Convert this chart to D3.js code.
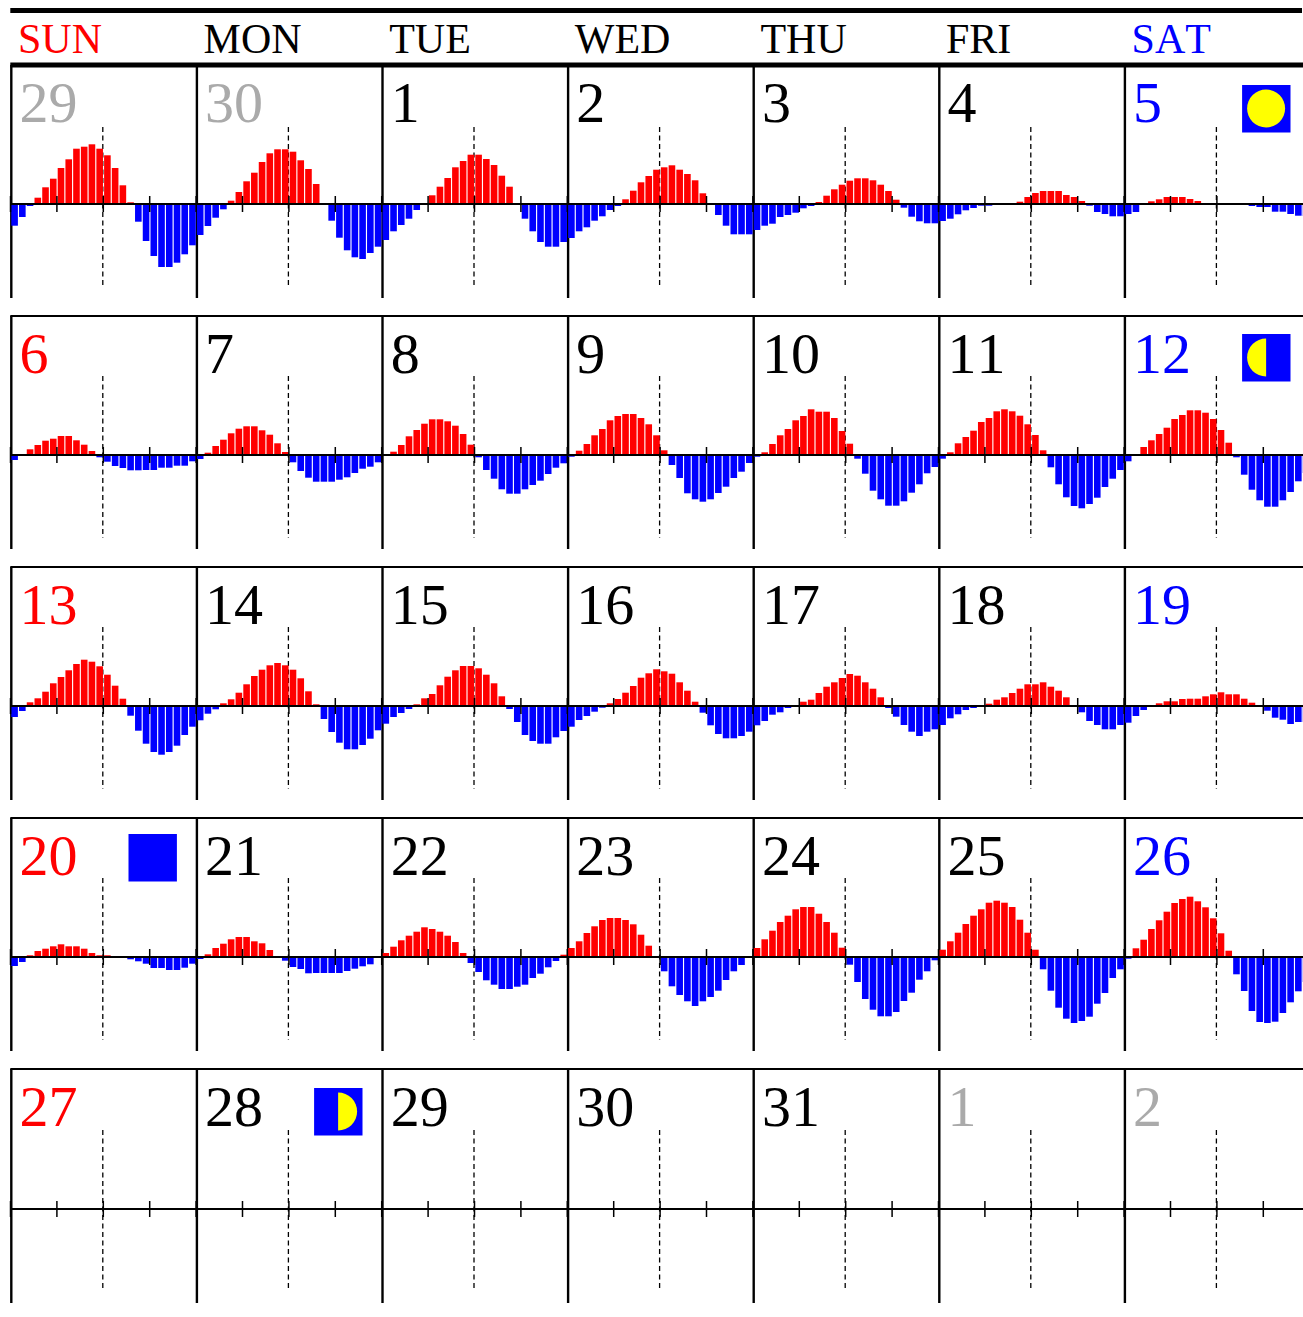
<!DOCTYPE html>
<html>
<head>
<meta charset="utf-8">
<script src="https://cdnjs.cloudflare.com/ajax/libs/d3/7.8.5/d3.min.js"></script>
<style>
  body { margin: 0; background: #fff; }
  text { font-family: "Liberation Serif", serif; font-kerning: none; }
</style>
</head>
<body>
<svg id="calendar" width="1303" height="1317"></svg>
<script>
// weekday headings
const weekdays = ["SUN", "MON", "TUE", "WED", "THU", "FRI", "SAT"];

// day numbers, one row per week
const dayLabels = [
  [29, 30, 1, 2, 3, 4, 5],
  [6, 7, 8, 9, 10, 11, 12],
  [13, 14, 15, 16, 17, 18, 19],
  [20, 21, 22, 23, 24, 25, 26],
  [27, 28, 29, 30, 31, 1, 2]
];
// days that belong to another month
const otherMonth = ["0-0", "0-1", "4-5", "4-6"];

const hourTicks = [0, 6, 12, 18];

// moon phases: row, col, phase
const moonRows = [0, 1, 3, 4];
const moonCols = [6, 6, 0, 1];
const moonPhases = ["full", "waning", "new", "waxing"];

// hourly values, one list per day (24 hours)
const week1 = [
  [-21.7,-13,-2,6.3,16.7,25.3,36,44.7,55.3,57.3,59.7,55.3,48.7,36,18.7,1.7,-17.7,-37,-52,-63,-63,-58.7,-50.3,-41.3],
  [-31,-22,-13.7,-5.3,3.3,12,22.7,31.3,42,50.7,54.7,54.7,52.3,43.7,35,20,0.7,-16.7,-33.7,-46.3,-53.3,-55,-49,-42.7],
  [-36,-27.3,-21,-14.7,-6,0,8.7,17.3,26,36.7,43,49.3,49.3,45,39,28.3,17.3,0,-14.7,-27.3,-38,-42.7,-42.7,-38],
  [-34,-27.3,-23.3,-16.7,-12.3,-6,-2,4.7,13.3,21.7,28,34.3,36.7,38.7,34.3,30,23.7,10.7,0,-11,-21.7,-30.3,-30.3,-30.3],
  [-26,-21.7,-19.7,-13,-11,-8.7,-4.3,-2,2,8.3,14.7,19.3,23.3,25.7,25.7,23.7,19.3,13,4.3,-3.7,-12.7,-17.3,-19.3,-19.3],
  [-17,-14.7,-10.3,-6.3,-4,-1.7,-1.7,0.4,0.4,0.6,2.3,7,11,13,13,13,9,7,3,-1.7,-8,-10,-12.3,-12.3],
  [-10,-8,-0.7,2.7,4.7,7,7,7,5,3,0.7,0.5,0.3,0,-0.3,-0.5,-2,-3,-3,-7.7,-7.7,-10,-11.7,-12]
];
const week2 = [
  [-5,0,5.7,10,14.3,16.3,19,19,14.7,10.3,4,-2.3,-6.7,-11,-13,-15.3,-15.3,-15,-15,-12.7,-12.7,-10.7,-10.7,-6.3],
  [-4,2.3,9,15.3,21.7,26.3,28.7,28.7,24.7,20.3,11.7,3,-7.3,-16,-22.7,-26.7,-26.7,-26.7,-24.7,-22.3,-18,-13.7,-11.7,-7.3],
  [0,3.3,10,18.7,25,31.3,35.7,35.7,33.7,29.3,21,10.3,-2.3,-15,-23.7,-34.3,-38.7,-38.7,-34.3,-30,-25.7,-19,-12.7,-8.3],
  [-1.7,4.3,11,19.7,26,34.7,39,41,41,37,30.7,19.7,4.7,-10,-23,-38.3,-44.3,-46.7,-44.3,-38,-31.7,-23,-16.7,-8],
  [-1.7,2.7,11,19.7,26,34.7,39,45.7,43.3,43.3,37,24,11.3,-3.7,-18.7,-35.7,-44.3,-50.7,-50.7,-46.3,-37.7,-29.3,-18.3,-12],
  [-3.7,2.7,11.7,18,24.3,33,37,43.7,45.7,43.7,39.3,30.7,20,4.7,-12.3,-29.3,-42.3,-51,-53.3,-49,-42.7,-32,-23.7,-15],
  [-6.3,0,8,14.7,21,27.3,36,40,44.7,44.7,42.3,36,25,12.3,-2.3,-19.7,-34.7,-45.3,-51.7,-51.7,-45.3,-37,-26.3,-18]
];
const week3 = [
  [-11,-5,3.7,7.7,14.3,22.7,29,35.7,42,46.3,44.3,39.7,31.3,20.3,7.3,-9.7,-24.7,-37.7,-46,-48.7,-46,-39.7,-29,-20.7],
  [-14.3,-7.7,-3.3,2.7,6.7,13.3,21.7,30,36.3,40.7,43,40.7,36.3,27.7,14.7,1.7,-13,-26,-36.7,-43.3,-43.3,-39,-32.7,-24.3],
  [-17.7,-11,-7,-3,1.7,7.7,12,20.7,29.3,35.7,40,40,37.7,31.3,22.7,9.7,-3,-16,-29,-35,-37.7,-37.7,-31.3,-25],
  [-20.7,-14,-10,-5.7,-1.7,2.7,7,13.3,20,28.3,32.7,36.7,34.7,32.3,23.7,15.3,4.3,-6.7,-19.3,-28,-32.3,-32.3,-30,-25.7],
  [-19.3,-15,-8.7,-6.3,-2,0,4.3,6.3,13,19.3,23.7,28,32,30.3,23.7,17.3,8.7,-2,-10.7,-19,-25.7,-30,-25.7,-23.3],
  [-19,-12.3,-8.3,-4,-2,0,2.3,6.3,8.7,13,17.3,21.7,21.7,23.7,19.3,15.3,8.7,0,-6.3,-15,-19,-23.3,-23.3,-19],
  [-16.7,-10,-4,0,2.7,4.7,4.7,7,7.3,7.3,9.7,11.7,13.7,11.7,11.7,7.3,3.3,0,-4.7,-11.7,-13.7,-18,-16,-16]
];
const week4 = [
  [-9,-5,1.7,6,8.3,10.7,12.7,10.7,10.7,8.3,4,1.7,1.7,0,0,-2.3,-4.3,-6.7,-11,-11,-13,-13,-10.7,-6.7],
  [-2,2.7,9,13.3,17.7,20,20,15.7,13.7,7,0,-3.7,-10,-12,-16.3,-16,-16,-16,-16,-14,-11.7,-9.3,-7.3,0],
  [4,10.3,16.7,21.3,25.3,29.7,28,25.3,21.3,15,4,-6,-15,-23.3,-27.7,-32,-32,-29.7,-27.7,-21,-16.7,-10.3,-4,2.3],
  [9,15.7,24,30.7,37,39,39,37,32.7,22.3,11.3,-1,-14.3,-29.3,-38,-44.3,-49,-44.3,-40,-33.7,-23,-14.3,-8,0],
  [9,17.7,26.3,35,41.3,47.7,50,50,43.3,35,24.3,9.3,-7.7,-25,-42,-52.7,-59.3,-59.3,-55,-44,-35.7,-22.7,-14.3,-3.3],
  [7.3,15.7,24.3,33,41.3,47.7,54.3,56.3,54.3,50,37.3,24.3,7.3,-12.3,-33.7,-50.7,-61.7,-66,-64,-59.7,-46.7,-36,-21,-12.3],
  [-1.7,8.7,17.3,28,36.7,45.3,54,58,60.3,55.7,49.7,38.7,23.7,6.3,-17.3,-34,-54,-65,-66,-64.7,-56,-45.3,-34.3,-25]
];
const week5 = [[], [], [], [], [], [], []]; // nothing plotted for the last week

const weeks = [week1, week2, week3, week4, week5];

// layout
const cellW = 185.6, left = 11.3, right = 1303;
const rowTop = [65, 316, 567, 818, 1069];
const rowBottom = [298, 549, 800, 1051, 1303];
const baseline = [204, 455, 706, 957, 1209];
const dashTop = [127, 376, 627, 878, 1130];
const dashBottom = [288, 538, 789, 1040, 1291];
const moonTop = [85, 334, 585, 834, 1088];

const svg = d3.select("#calendar");

// hour scale is shared by all the cells, value scale is 1:1 with pixels
const x = d3.scaleLinear().domain([0, 24]).range([0, cellW]);
const y = d3.scaleLinear().domain([-84, 78]).range([84, -78]);
const barWidth = 6.6, barShift = 1.3;

function dayColor(r, c) {
  if (otherMonth.includes(r + "-" + c)) return "#aaa";
  if (c === 0) return "#f00";
  if (c === 6) return "#00f";
  return "#000";
}

// heading
svg.append("rect").attr("x", left - 1).attr("y", 8).attr("width", right - left).attr("height", 5);
svg.selectAll(".weekday")
  .data(weekdays)
  .join("text")
    .attr("class", "weekday")
    .attr("x", (d, i) => 18 + i * cellW)
    .attr("y", 53)
    .attr("font-size", 42)
    .attr("fill", (d, i) => i === 0 ? "#f00" : i === 6 ? "#00f" : "#000")
    .text(d => d);

weeks.forEach((week, r) => {
  const row = svg.append("g");

  // rule on top of the row, the first one is heavy
  row.append("rect")
    .attr("x", left - 1)
    .attr("y", rowTop[r] - (r === 0 ? 2.5 : 1))
    .attr("width", right - left + 1)
    .attr("height", r === 0 ? 5 : 2);

  // column rules
  row.selectAll(".vline")
    .data(d3.range(7))
    .join("line")
      .attr("class", "vline")
      .attr("x1", c => left + c * cellW).attr("x2", c => left + c * cellW)
      .attr("y1", rowTop[r]).attr("y2", rowBottom[r])
      .attr("stroke", "#000").attr("stroke-width", 2.4);

  week.forEach((hours, c) => {
    const cell = row.append("g")
      .attr("transform", `translate(${10 + c * cellW}, ${baseline[r]})`);

    // noon marker
    cell.append("line")
      .attr("x1", x(12)).attr("x2", x(12))
      .attr("y1", dashTop[r] - baseline[r]).attr("y2", dashBottom[r] - baseline[r])
      .attr("stroke", "#000").attr("stroke-width", 1.3)
      .attr("stroke-dasharray", "5,3.5");

    cell.selectAll("rect")
      .data(hours)
      .join("rect")
        .attr("x", (d, i) => x(i) + barShift)
        .attr("y", d => Math.min(y(d), y(0)))
        .attr("width", barWidth)
        .attr("height", d => Math.abs(y(d) - y(0)))
        .attr("fill", d => d >= 0 ? "#f00" : "#00f");

    // ticks go both ways from the zero line
    cell.append("g")
      .call(d3.axisBottom(x).tickValues(hourTicks).tickSize(8).tickFormat(""))
      .call(g => g.select(".domain").remove())
      .call(g => g.selectAll(".tick line").attr("y1", -8).attr("stroke-width", 1.5));

    row.append("text")
      .attr("x", 19.5 + c * cellW)
      .attr("y", rowTop[r] + 57)
      .attr("font-size", 58)
      .attr("fill", dayColor(r, c))
      .text(dayLabels[r][c]);
  });

  // zero line
  row.append("line")
    .attr("x1", left - 1).attr("x2", right)
    .attr("y1", baseline[r]).attr("y2", baseline[r])
    .attr("stroke", "#000").attr("stroke-width", 2);
});

// moon boxes
moonPhases.forEach((phase, i) => {
  const bx = left + moonCols[i] * cellW + 117.2, by = moonTop[moonRows[i]];
  const cx = bx + 24, cy = by + 23.5, rad = 19;
  const g = svg.append("g");
  g.append("rect").attr("x", bx).attr("y", by).attr("width", 48.4).attr("height", 47.5).attr("fill", "#00f");
  if (phase === "full") {
    g.append("circle").attr("cx", cx).attr("cy", cy).attr("r", rad).attr("fill", "#ff0");
  } else if (phase !== "new") {
    const arc = d3.arc()({
      innerRadius: 0, outerRadius: rad,
      startAngle: phase === "waning" ? -Math.PI : 0,
      endAngle: phase === "waning" ? 0 : Math.PI
    });
    g.append("path").attr("d", arc).attr("transform", `translate(${cx}, ${cy})`).attr("fill", "#ff0");
  }
});
</script>
</body>
</html>
